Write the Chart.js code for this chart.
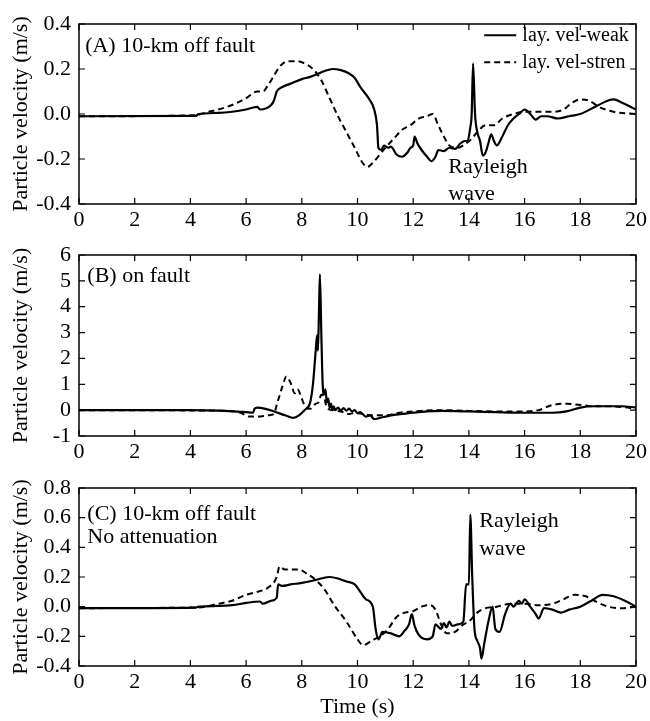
<!DOCTYPE html>
<html>
<head>
<meta charset="utf-8">
<script src="https://cdn.jsdelivr.net/npm/chart.js@4.4.1/dist/chart.umd.min.js"></script>
<style>
  body { margin: 0; background: #fff; }
  #wrap { position: relative; width: 650px; height: 721px; }
  canvas { position: absolute; left: 0; }
</style>
</head>
<body>
<div id="wrap">
  <canvas id="chartA" width="650" height="232" style="top:0px"></canvas>
  <canvas id="chartB" width="650" height="232" style="top:232px"></canvas>
  <canvas id="chartC" width="650" height="257" style="top:464px"></canvas>
</div>
<script>
// time (s), particle velocity (m/s)
const aWeak = [[0,-0.01],[4.2,-0.008],[4.3,0.0],[5,0.005],[5.5,0.01],[6,0.02],[6.4,0.032],[6.5,0.02],[6.9,0.04],[7.0,0.06],[7.1,0.1],[7.3,0.12],[7.6,0.135],[8.0,0.155],[8.3,0.165],[8.6,0.18],[8.8,0.19],[9.1,0.2],[9.4,0.195],[9.7,0.18],[9.9,0.16],[10.1,0.12],[10.4,0.07],[10.6,0.02],[10.7,-0.05],[10.75,-0.15],[10.85,-0.16],[10.95,-0.14],[11.1,-0.15],[11.2,-0.145],[11.4,-0.18],[11.6,-0.19],[11.8,-0.17],[11.9,-0.15],[12.0,-0.14],[12.05,-0.1],[12.15,-0.13],[12.3,-0.16],[12.5,-0.19],[12.65,-0.21],[12.8,-0.19],[12.9,-0.16],[13.1,-0.165],[13.3,-0.15],[13.5,-0.155],[13.7,-0.13],[13.85,-0.12],[13.95,-0.12],[14.05,-0.06],[14.1,0.0],[14.15,0.225],[14.22,0.0],[14.3,-0.08],[14.4,-0.12],[14.5,-0.185],[14.6,-0.17],[14.7,-0.13],[14.8,-0.09],[14.9,-0.12],[15.0,-0.14],[15.2,-0.1],[15.4,-0.05],[15.6,-0.02],[15.8,0.0],[16.0,0.02],[16.2,0.0],[16.4,-0.025],[16.6,-0.01],[16.8,-0.01],[17.2,-0.02],[17.6,-0.01],[18.0,0.0],[18.5,0.03],[19.0,0.06],[19.2,0.065],[19.5,0.05],[20,0.02]];
const aStren = [[0,-0.01],[4.2,-0.006],[4.5,0.005],[5,0.02],[5.5,0.04],[6,0.07],[6.4,0.1],[6.6,0.1],[6.8,0.13],[7.0,0.17],[7.2,0.21],[7.5,0.235],[7.8,0.235],[8.1,0.225],[8.4,0.2],[8.7,0.15],[9.0,0.07],[9.3,-0.01],[9.6,-0.08],[9.9,-0.15],[10.2,-0.22],[10.35,-0.235],[10.6,-0.21],[10.8,-0.18],[11.0,-0.15],[11.3,-0.11],[11.6,-0.07],[11.9,-0.05],[12.2,-0.02],[12.5,-0.01],[12.7,0.0],[12.9,-0.05],[13.1,-0.1],[13.3,-0.14],[13.6,-0.15],[13.9,-0.13],[14.1,-0.11],[14.3,-0.08],[14.6,-0.05],[14.9,-0.05],[15.2,-0.02],[15.6,0.0],[16.0,0.01],[16.5,0.01],[17.0,0.01],[17.4,0.02],[17.7,0.05],[18.0,0.065],[18.3,0.06],[18.7,0.03],[19.2,0.01],[20,0.0]];

const bWeak = [[0,0],[4,0],[5,-0.02],[6.0,-0.08],[6.25,-0.1],[6.3,0.05],[6.4,0.1],[6.7,0.05],[7.0,-0.05],[7.4,-0.2],[7.7,-0.3],[7.9,-0.2],[8.1,0.0],[8.3,0.3],[8.4,1.0],[8.5,2.3],[8.55,2.9],[8.58,2.3],[8.62,4.0],[8.65,5.25],[8.7,3.0],[8.75,1.0],[8.8,0.6],[8.85,0.8],[8.9,0.3],[8.95,0.45],[9.0,0.1],[9.05,0.25],[9.1,0.0],[9.15,0.15],[9.2,0.0],[9.3,0.1],[9.4,-0.02],[9.5,0.08],[9.6,-0.02],[9.7,0.06],[9.8,-0.05],[9.9,0.0],[10.0,-0.12],[10.1,-0.08],[10.3,-0.25],[10.45,-0.2],[10.6,-0.35],[10.8,-0.3],[11.2,-0.2],[11.6,-0.15],[12.0,-0.1],[12.5,-0.05],[13,-0.03],[14,-0.05],[15,-0.08],[16,-0.1],[16.5,-0.1],[17.0,-0.1],[17.5,-0.05],[18.0,0.1],[18.5,0.15],[19.0,0.15],[19.5,0.15],[20,0.1]];
const bStren = [[0,0],[5,-0.02],[5.8,-0.1],[6.1,-0.25],[6.4,-0.25],[6.8,-0.2],[7.0,-0.15],[7.1,0.2],[7.3,0.9],[7.45,1.3],[7.6,1.05],[7.75,0.65],[7.85,0.8],[7.95,0.6],[8.05,0.3],[8.15,0.1],[8.3,0.05],[8.5,0.25],[8.6,0.3],[8.7,0.6],[8.8,0.5],[8.9,0.1],[9.1,0.0],[9.4,-0.05],[9.7,-0.15],[9.9,-0.1],[10.2,-0.15],[10.5,-0.2],[11.0,-0.2],[11.5,-0.1],[12,-0.05],[13,0.0],[14,-0.03],[15,-0.05],[16,-0.05],[16.5,0.0],[17.0,0.2],[17.5,0.25],[18.0,0.2],[18.5,0.15],[19.0,0.15],[19.5,0.12],[20,0.05]];

const cWeak = [[0,-0.01],[4.2,-0.006],[4.3,0.0],[5,0.005],[5.5,0.01],[6.0,0.025],[6.5,0.035],[6.6,0.02],[6.9,0.04],[7.1,0.06],[7.15,0.15],[7.3,0.14],[7.6,0.15],[8.0,0.16],[8.5,0.18],[8.7,0.19],[9.0,0.2],[9.3,0.19],[9.6,0.17],[9.9,0.15],[10.1,0.1],[10.3,0.05],[10.55,0.0],[10.65,-0.15],[10.75,-0.22],[10.9,-0.17],[11.2,-0.18],[11.5,-0.2],[11.7,-0.16],[11.85,-0.12],[11.95,-0.05],[12.05,-0.13],[12.2,-0.19],[12.5,-0.22],[12.7,-0.2],[12.8,-0.12],[13.0,-0.15],[13.1,-0.11],[13.2,-0.14],[13.3,-0.1],[13.4,-0.13],[13.6,-0.12],[13.8,-0.1],[13.9,0.15],[14.0,0.15],[14.05,0.62],[14.12,0.2],[14.2,-0.15],[14.3,-0.23],[14.4,-0.28],[14.45,-0.35],[14.55,-0.25],[14.7,-0.1],[14.85,0.0],[14.95,-0.15],[15.1,-0.17],[15.3,-0.05],[15.5,0.02],[15.6,0.0],[15.8,0.04],[15.9,0.02],[16.0,0.05],[16.2,0.0],[16.4,-0.05],[16.5,-0.08],[16.7,-0.01],[17.0,-0.02],[17.3,-0.04],[17.6,-0.02],[18.0,0.0],[18.4,0.04],[18.8,0.08],[19.2,0.07],[19.6,0.04],[20,0.0]];
const cStren = [[0,-0.01],[4.3,-0.005],[5.0,0.02],[5.5,0.04],[6.0,0.08],[6.4,0.1],[6.8,0.13],[7.1,0.2],[7.2,0.27],[7.4,0.25],[7.9,0.25],[8.2,0.22],[8.5,0.18],[8.8,0.12],[9.2,0.0],[9.6,-0.1],[10.0,-0.22],[10.2,-0.26],[10.5,-0.23],[10.8,-0.2],[11.1,-0.15],[11.4,-0.07],[11.7,-0.04],[12.0,-0.03],[12.3,0.0],[12.6,0.01],[12.8,-0.02],[13.0,-0.12],[13.2,-0.18],[13.5,-0.17],[13.8,-0.12],[14.0,-0.1],[14.3,-0.04],[14.6,-0.01],[15.0,0.0],[15.5,0.02],[16.0,0.02],[16.5,0.01],[17.0,0.02],[17.4,0.05],[17.8,0.08],[18.2,0.07],[18.6,0.03],[19.0,0.0],[19.5,-0.01],[20,0.0]];

const seriesNames = ['lay. vel-weak', 'lay. vel-stren'];
const timeTicks = [0, 20, 2];

const FONT = '"Liberation Serif", "Times New Roman", serif';

function toXY(pairs) {
  return pairs.map(p => ({ x: p[0], y: p[1] }));
}

// box round the plot with inward tick marks on all four sides
const framePlugin = {
  id: 'frame',
  afterDraw(chart) {
    const { ctx, chartArea: a, scales } = chart;
    ctx.save();
    ctx.strokeStyle = '#000';
    ctx.lineWidth = 1.5;
    ctx.strokeRect(a.left, a.top, a.right - a.left, a.bottom - a.top);
    ctx.lineWidth = 1.2;
    ctx.beginPath();
    scales.x.ticks.forEach(t => {
      const px = scales.x.getPixelForValue(t.value);
      ctx.moveTo(px, a.bottom); ctx.lineTo(px, a.bottom - 6);
      ctx.moveTo(px, a.top); ctx.lineTo(px, a.top + 6);
    });
    scales.y.ticks.forEach(t => {
      const py = scales.y.getPixelForValue(t.value);
      ctx.moveTo(a.left, py); ctx.lineTo(a.left + 6, py);
      ctx.moveTo(a.right, py); ctx.lineTo(a.right - 6, py);
    });
    ctx.stroke();
    ctx.restore();
  }
};

// text notes and the legend, placed in data units
const notesPlugin = {
  id: 'notes',
  afterDraw(chart, args, opts) {
    const { ctx, scales } = chart;
    ctx.save();
    ctx.fillStyle = '#000';
    ctx.textBaseline = 'middle';
    ctx.textAlign = 'left';
    ctx.font = '22px ' + FONT;
    (opts.items || []).forEach(n => {
      ctx.fillText(n.text, scales.x.getPixelForValue(n.x), scales.y.getPixelForValue(n.y));
    });
    ctx.font = '20px ' + FONT;
    (opts.legend || []).forEach(l => {
      const ds = chart.data.datasets[l.ds];
      const y = scales.y.getPixelForValue(l.y);
      ctx.strokeStyle = ds.borderColor;
      ctx.lineWidth = ds.borderWidth;
      ctx.setLineDash(ds.borderDash || []);
      ctx.beginPath();
      ctx.moveTo(scales.x.getPixelForValue(l.x0), y);
      ctx.lineTo(scales.x.getPixelForValue(l.x1), y);
      ctx.stroke();
      ctx.setLineDash([]);
      ctx.fillText(ds.label, scales.x.getPixelForValue(l.tx), y);
    });
    ctx.restore();
  }
};

function makeChart(id, weak, stren, yMin, yMax, yStep, yDec, top, plotH, xHeight, showTitle, notes) {
  return new Chart(document.getElementById(id), {
    type: 'line',
    data: {
      datasets: [
        { label: seriesNames[0], data: toXY(weak), borderColor: '#000', borderWidth: 2.2, pointRadius: 0, fill: false, cubicInterpolationMode: 'monotone' },
        { label: seriesNames[1], data: toXY(stren), borderColor: '#000', borderWidth: 2, borderDash: [6, 4], pointRadius: 0, fill: false, cubicInterpolationMode: 'monotone' }
      ]
    },
    options: {
      responsive: false,
      animation: false,
      layout: { padding: { top: top, right: 12, left: 0, bottom: 0 } },
      plugins: {
        legend: { display: false },
        tooltip: { enabled: false },
        notes: notes
      },
      scales: {
        x: {
          type: 'linear',
          min: timeTicks[0],
          max: timeTicks[1],
          grid: { display: false, drawTicks: false },
          border: { display: false },
          ticks: { stepSize: timeTicks[2], autoSkip: false, maxRotation: 0, padding: 3, color: '#000', font: { family: FONT, size: 22 } },
          title: { display: showTitle, text: 'Time (s)', color: '#000', font: { family: FONT, size: 22 }, padding: { top: 0, bottom: 1 } },
          afterFit: s => { s.height = xHeight; }
        },
        y: {
          min: yMin,
          max: yMax,
          grid: { display: false, drawTicks: false },
          border: { display: false },
          ticks: {
            stepSize: yStep, autoSkip: false, padding: 8, color: '#000', font: { family: FONT, size: 22 },
            callback: v => Number(v).toFixed(yDec)
          },
          title: { display: true, text: 'Particle velocity (m/s)', color: '#000', font: { family: FONT, size: 22 }, padding: { top: 8, bottom: 0 } },
          afterFit: s => { s.width = 79; }
        }
      }
    },
    plugins: [framePlugin, notesPlugin]
  });
}

makeChart('chartA', aWeak, aStren, -0.4, 0.4, 0.2, 1, 24, 180, 28, false, {
  items: [
    { text: '(A) 10-km off fault', x: 0.22, y: 0.30 },
    { text: 'Rayleigh', x: 13.26, y: -0.235 },
    { text: 'wave', x: 13.26, y: -0.355 }
  ],
  legend: [
    { ds: 0, x0: 14.55, x1: 15.7, tx: 15.92, y: 0.35 },
    { ds: 1, x0: 14.55, x1: 15.7, tx: 15.92, y: 0.23 }
  ]
});

makeChart('chartB', bWeak, bStren, -1, 6, 1, 0, 23, 181, 28, false, {
  items: [
    { text: '(B) on fault', x: 0.3, y: 5.17 }
  ]
});

makeChart('chartC', cWeak, cStren, -0.4, 0.8, 0.2, 1, 24, 178, 55, true, {
  items: [
    { text: '(C) 10-km off fault', x: 0.3, y: 0.62 },
    { text: 'No attenuation', x: 0.3, y: 0.465 },
    { text: 'Rayleigh', x: 14.37, y: 0.575 },
    { text: 'wave', x: 14.37, y: 0.39 }
  ]
});
</script>
</body>
</html>
